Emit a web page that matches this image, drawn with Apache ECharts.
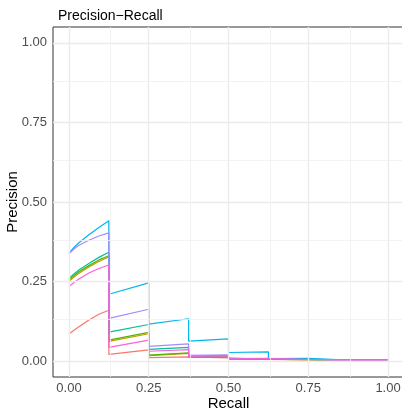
<!DOCTYPE html>
<html>
<head>
<meta charset="utf-8">
<script src="https://cdn.jsdelivr.net/npm/echarts@6/dist/echarts.min.js"></script>
<style>
html,body{margin:0;padding:0;background:#fff;}
#chart{width:402px;height:411px;}
</style>
</head>
<body>
<div id="chart"></div>
<script>
// ---- data ----
const seriesNames = ['m1', 'm2', 'm3', 'm4', 'm5', 'm6', 'm7'];
const seriesColors = ['#F8766D', '#C49A00', '#53B400', '#00C094', '#00B6EB', '#A58AFF', '#FB61D7'];
const recallSteps = [0, 0.125, 0.25, 0.375, 0.5, 0.625, 0.75, 0.875, 1];
const firstSegRecall = [0, 0.015625, 0.03125, 0.0625, 0.09375, 0.125];
// precision along first segment (recall 0 .. 0.125)
const firstSeg = [
  [0.085, 0.097, 0.108, 0.129, 0.147, 0.160],
  [0.250, 0.264, 0.276, 0.296, 0.313, 0.327],
  [0.255, 0.269, 0.281, 0.300, 0.318, 0.331],
  [0.260, 0.274, 0.286, 0.307, 0.326, 0.342],
  [0.339, 0.357, 0.372, 0.397, 0.420, 0.441],
  [0.337, 0.352, 0.364, 0.380, 0.393, 0.403],
  [0.234, 0.247, 0.258, 0.277, 0.291, 0.302]
];
// precision at the start of segments 2..8
const segStart = [
  [0.021, 0.011, 0.009, 0.005, 0.004, 0.003, 0.003],
  [0.062, 0.017, 0.012, 0.006, 0.004, 0.003, 0.003],
  [0.066, 0.019, 0.013, 0.006, 0.004, 0.003, 0.003],
  [0.091, 0.037, 0.016, 0.007, 0.005, 0.003, 0.003],
  [0.210, 0.116, 0.063, 0.027, 0.008, 0.003, 0.003],
  [0.134, 0.046, 0.018, 0.008, 0.005, 0.003, 0.003],
  [0.043, 0.031, 0.015, 0.007, 0.004, 0.003, 0.003]
];
// precision at the end of segments 2..8
const segEnd = [
  [0.035, 0.013, 0.010, 0.005, 0.004, 0.003, 0.003],
  [0.086, 0.024, 0.013, 0.006, 0.004, 0.003, 0.003],
  [0.090, 0.026, 0.014, 0.007, 0.005, 0.003, 0.003],
  [0.115, 0.043, 0.017, 0.008, 0.005, 0.003, 0.003],
  [0.246, 0.133, 0.070, 0.029, 0.009, 0.003, 0.003],
  [0.163, 0.054, 0.020, 0.009, 0.005, 0.003, 0.003],
  [0.066, 0.036, 0.016, 0.008, 0.005, 0.003, 0.003]
];
const majorTicks = [0, 0.25, 0.5, 0.75, 1];
const minorTicks = [0.125, 0.375, 0.625, 0.875];

// ---- build ----
function buildSeries(i) {
  const pts = firstSegRecall.map((r, j) => [r, firstSeg[i][j]]);
  for (let k = 0; k < segStart[i].length; k++) {
    pts.push([recallSteps[k + 1], segStart[i][k]]);
    pts.push([recallSteps[k + 2], segEnd[i][k]]);
  }
  return {
    name: seriesNames[i], type: 'line', data: pts, showSymbol: false, symbol: 'none',
    lineStyle: { color: seriesColors[i], width: 1.2 }, itemStyle: { color: seriesColors[i] },
    z: 3, animation: false, clip: true
  };
}
const gridLines = [];
majorTicks.forEach(v => {
  gridLines.push({ xAxis: v, lineStyle: { width: 1.4, color: '#EBEBEB', type: 'solid' } });
  gridLines.push({ yAxis: v, lineStyle: { width: 1.4, color: '#EBEBEB', type: 'solid' } });
});
minorTicks.forEach(v => {
  gridLines.push({ xAxis: v, lineStyle: { width: 0.8, color: '#F0F0F0', type: 'solid' } });
  gridLines.push({ yAxis: v, lineStyle: { width: 0.8, color: '#F0F0F0', type: 'solid' } });
});

const FONT = 'Liberation Sans, Arial, sans-serif';
const chart = echarts.init(document.getElementById('chart'), null, { renderer: 'canvas' });
chart.setOption({
  animation: false,
  backgroundColor: '#ffffff',
  title: { text: 'Precision\u2212Recall', left: 53, top: 4, textStyle: { fontFamily: FONT, fontSize: 14, fontWeight: 'normal', color: '#000' } },
  grid: { left: 53, top: 27, width: 351, height: 350, show: true, borderColor: '#333333', borderWidth: 1, backgroundColor: '#fff', containLabel: false, outerBoundsMode: 'none' },
  xAxis: {
    type: 'value', min: -0.05, max: 1.05,
    name: 'Recall', nameLocation: 'middle', nameGap: 19, nameMoveOverlap: false,
    nameTextStyle: { fontFamily: FONT, fontSize: 15, color: '#000', verticalAlign: 'top' },
    axisLine: { show: false },
    axisTick: { show: true, length: 4, customValues: majorTicks, lineStyle: { color: '#333333' } },
    axisLabel: { customValues: majorTicks, formatter: v => v.toFixed(2), fontFamily: FONT, fontSize: 13, color: '#4D4D4D', margin: 5 },
    splitLine: { show: false }, minorSplitLine: { show: false }
  },
  yAxis: {
    type: 'value', min: -0.05, max: 1.05,
    name: 'Precision', nameLocation: 'middle', nameGap: 33, nameMoveOverlap: false,
    nameTextStyle: { fontFamily: FONT, fontSize: 15, color: '#000' },
    axisLine: { show: false },
    axisTick: { show: true, length: 4, customValues: majorTicks, lineStyle: { color: '#333333' } },
    axisLabel: { customValues: majorTicks, formatter: v => v.toFixed(2), fontFamily: FONT, fontSize: 13, color: '#4D4D4D', margin: 6 },
    splitLine: { show: false }, minorSplitLine: { show: false }
  },
  series: [{
    type: 'line', data: [], z: 1, silent: true, animation: false,
    markLine: { symbol: 'none', silent: true, animation: false, label: { show: false }, lineStyle: { type: 'solid' }, data: gridLines }
  }].concat(seriesNames.map((_, i) => buildSeries(i)))
});
</script>
</body>
</html>
